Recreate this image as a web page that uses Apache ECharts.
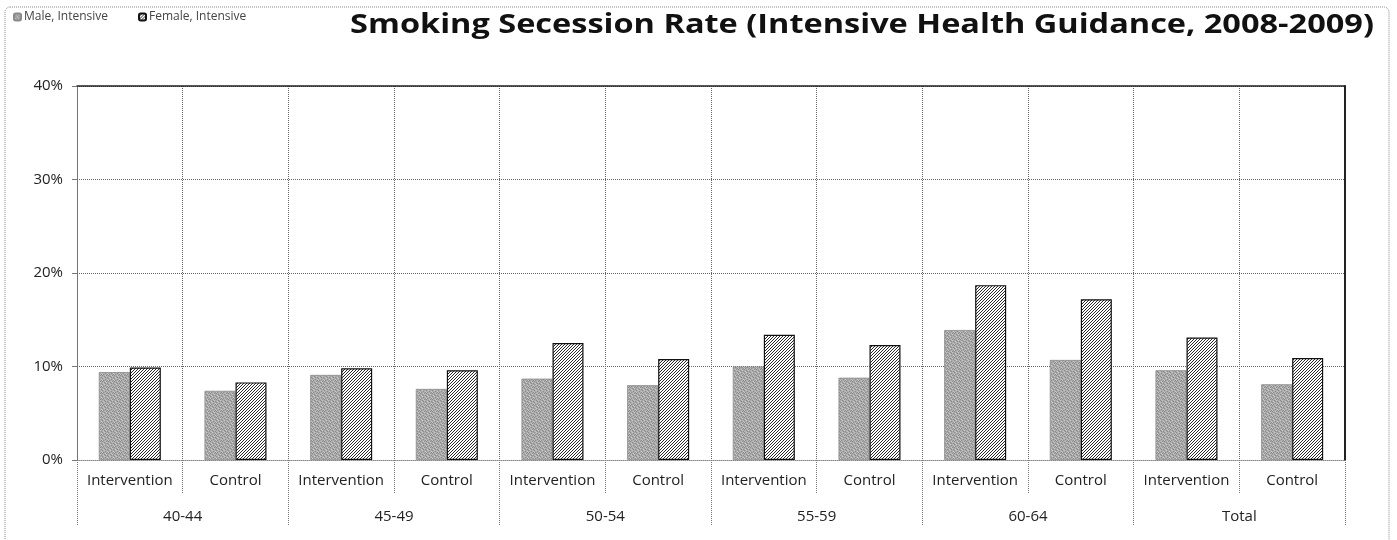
<!DOCTYPE html>
<html><head><meta charset="utf-8">
<script src="https://cdn.jsdelivr.net/npm/echarts@6/dist/echarts.min.js"></script>
<style>html,body{margin:0;padding:0;background:#fff}#c{width:1397px;height:540px}</style>
</head><body><div id="c"></div>
<script>
const subCategories = ['Intervention','Control','Intervention','Control','Intervention','Control','Intervention','Control','Intervention','Control','Intervention','Control'];
const groups = ['40-44','45-49','50-54','55-59','60-64','Total'];
const maleIntensive = [9.4, 7.4, 9.1, 7.6, 8.7, 8.0, 10.0, 8.8, 13.9, 10.7, 9.6, 8.1];
const femaleIntensive = [9.9, 8.3, 9.8, 9.6, 12.5, 10.8, 13.4, 12.3, 18.7, 17.2, 13.1, 10.9];
const yTicks = [0, 10, 20, 30, 40];
const titleText = 'Smoking Secession Rate (Intensive Health Guidance, 2008-2009)';

function malePattern(){
  const c = document.createElement('canvas'); c.width = 6; c.height = 6;
  const g = c.getContext('2d');
  g.fillStyle = '#ababab'; g.fillRect(0,0,6,6);
  const dark = [[0,0],[3,1],[1,2],[4,3],[2,4],[5,5],[0,3],[3,5],[5,2]];
  const light = [[2,0],[5,1],[0,2],[3,3],[1,5],[4,4]];
  g.fillStyle = '#8c8c8c'; dark.forEach(p=>g.fillRect(p[0],p[1],1,1));
  g.fillStyle = '#c8c8c8'; light.forEach(p=>g.fillRect(p[0],p[1],1,1));
  return c;
}
function femalePattern(){
  const c = document.createElement('canvas'); c.width = 3; c.height = 3;
  const g = c.getContext('2d');
  g.fillStyle = '#ffffff'; g.fillRect(0,0,3,3);
  g.fillStyle = '#2a2a2a';
  for (let i=0;i<3;i++){ g.fillRect(i,2-i,1,1); }
  return c;
}

const chart = echarts.init(document.getElementById('c'), null, {renderer:'canvas'});
const FONT = '"Open Sans", sans-serif';
chart.setOption({
  animation:false,
  backgroundColor:'#fff',
  legend:{
    left:8, top:6, itemWidth:7, itemHeight:7, itemGap:30,
    textStyle:{fontFamily:FONT, fontSize:12, color:'#444', padding:[0,0,0,-2]},
    data:['Male, Intensive','Female, Intensive']
  },
  graphic:[{
    type:'rect', shape:{x:5, y:7, width:1384, height:545, r:5},
    style:{fill:'none', stroke:'#888', lineWidth:1, lineDash:[1,1]}, silent:true, z:-1
  },{
    type:'text', x:862, y:26, scaleX:1.25, originX:0, originY:0,
    style:{text:titleText, fontFamily:FONT, fontWeight:'bold', fontSize:26, fill:'#111',
      textAlign:'center', textVerticalAlign:'middle'}
  }],
  grid:{left:77, right:52, top:86, bottom:80},
  xAxis:[{
    type:'category', data:subCategories, position:'bottom',
    axisLine:{lineStyle:{color:'#888', type:[1,1]}},
    axisTick:{show:true, length:33, lineStyle:{color:'#777', type:[1,1]}},
    splitLine:{show:true, lineStyle:{color:'#666', type:[1,1]}},
    axisLabel:{interval:0, fontFamily:FONT, fontSize:15, color:'#222', margin:13}
  },{
    type:'category', data:groups, position:'bottom',
    axisLine:{show:false},
    axisTick:{show:true, length:66, lineStyle:{color:'#777', type:[1,1]}},
    axisLabel:{interval:0, fontFamily:FONT, fontSize:15, color:'#222', margin:49}
  },{
    type:'category', data:subCategories, position:'top',
    axisLine:{show:true, lineStyle:{color:'#222', width:1.5}},
    axisTick:{show:false}, axisLabel:{show:false}
  }],
  yAxis:[{
    type:'value', min:0, max:40, interval:10,
    axisLine:{show:true, lineStyle:{color:'#777', type:[1,1]}},
    axisTick:{show:true, length:5, lineStyle:{color:'#777'}},
    splitLine:{show:true, lineStyle:{color:'#666', type:[1,1]}},
    axisLabel:{fontFamily:FONT, fontSize:15, color:'#222', margin:14,
      formatter:v=>yTicks.includes(v)?v+'%':''}
  },{
    type:'value', min:0, max:40, interval:10, position:'right',
    axisLine:{show:true, lineStyle:{color:'#222', width:2}},
    axisTick:{show:false}, axisLabel:{show:false}, splitLine:{show:false}
  }],
  series:[{
    name:'Male, Intensive', type:'bar', data:maleIntensive,
    xAxisIndex:0, yAxisIndex:0,
    barWidth:31, barGap:'0%',
    itemStyle:{color:{image:malePattern(), repeat:'repeat'}, borderColor:'#8a8a8a', borderWidth:0.8}
  },{
    name:'Female, Intensive', type:'bar', data:femaleIntensive,
    xAxisIndex:0, yAxisIndex:0,
    barWidth:31, barGap:'0%',
    itemStyle:{color:{image:femalePattern(), repeat:'repeat'}, borderColor:'#111', borderWidth:1.2}
  }]
});
</script></body></html>
